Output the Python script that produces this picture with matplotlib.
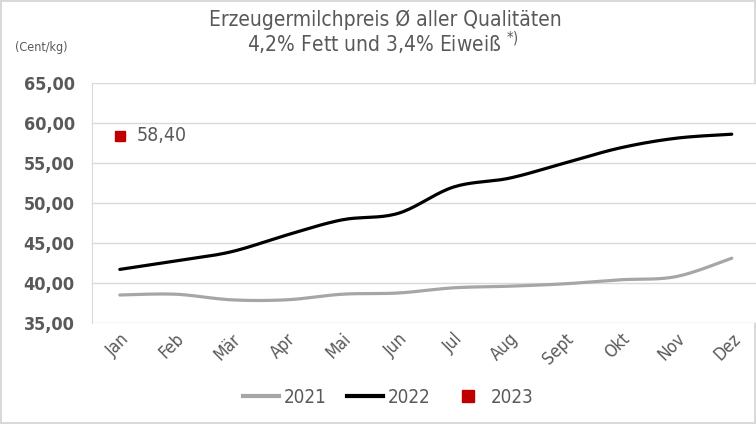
import numpy as np
import matplotlib.pyplot as plt
from matplotlib.lines import Line2D
from matplotlib.ticker import FuncFormatter

months = ["Jan", "Feb", "Mär", "Apr", "Mai", "Jun", "Jul", "Aug", "Sept", "Okt", "Nov", "Dez"]
price_2021 = [38.5, 38.6, 37.9, 37.9, 38.6, 38.75, 39.4, 39.6, 39.9, 40.4, 40.8, 43.1]
price_2022 = [41.7, 42.75, 43.9, 46.0, 47.9, 48.7, 52.0, 53.1, 55.0, 56.9, 58.1, 58.6]
price_2023 = [58.40]

TXT = "#595959"
plt.rcParams['font.family'] = ['DejaVu Sans']
plt.rcParams['font.stretch'] = 'condensed'


def smooth(y, n=20):
    """Excel-like smoothed line (Catmull-Rom Bezier through the points)."""
    y = np.asarray(y, float)
    x = np.arange(len(y), dtype=float)
    xs, ys = [], []
    t = np.linspace(0, 1, n)
    for i in range(len(y) - 1):
        p0 = np.array([x[max(i - 1, 0)], y[max(i - 1, 0)]])
        p1 = np.array([x[i], y[i]])
        p2 = np.array([x[i + 1], y[i + 1]])
        p3 = np.array([x[min(i + 2, len(y) - 1)], y[min(i + 2, len(y) - 1)]])
        c1 = p1 + (p2 - p0) / 6
        c2 = p2 - (p3 - p1) / 6
        b = (np.outer((1 - t) ** 3, p1) + np.outer(3 * (1 - t) ** 2 * t, c1)
             + np.outer(3 * (1 - t) * t ** 2, c2) + np.outer(t ** 3, p2))
        xs.extend(b[:, 0])
        ys.extend(b[:, 1])
    return np.array(xs), np.array(ys)


fig = plt.figure(figsize=(7.56, 4.24), dpi=100)
fig.patch.set_edgecolor("#d9d9d9")
fig.patch.set_linewidth(1.5)
ax = fig.add_axes([0.1217, 0.2382, 0.883, 0.566])

for yv in range(35, 70, 5):
    ax.axhline(yv, color="#d9d9d9", lw=1, zorder=0)

x1, y1 = smooth(price_2021)
x2, y2 = smooth(price_2022)
ax.plot(x1, y1, color="#a6a6a6", lw=2.3, solid_capstyle="round", zorder=2)
ax.plot(x2, y2, color="black", lw=2.3, solid_capstyle="round", zorder=3)
ax.plot(range(len(price_2023)), price_2023, "s", color="#c00000", ms=7.5, zorder=4)
ax.text(0.3, price_2023[0], f"{price_2023[0]:.2f}".replace(".", ","),
        color=TXT, fontsize=14, va="center", ha="left")

ax.set_xlim(-0.5, 11.5)
ax.set_ylim(35, 65)
ax.set_yticks(range(35, 70, 5))
ax.yaxis.set_major_formatter(FuncFormatter(lambda v, p: f"{v:.2f}".replace(".", ",")))
ax.set_xticks(range(12))
ax.set_xticklabels(months, rotation=45, ha="right", rotation_mode="anchor")
ax.tick_params(axis="y", length=0, pad=12.5, labelsize=13, labelcolor=TXT)
ax.tick_params(axis="x", length=0, pad=5, labelsize=12.5, labelcolor=TXT)
for lab in ax.get_yticklabels():
    lab.set_fontweight("bold")
for s in ["top", "right", "bottom"]:
    ax.spines[s].set_visible(False)
ax.spines["left"].set_color("#d9d9d9")

fig.text(0.51, 0.953, "Erzeugermilchpreis Ø aller Qualitäten", ha="center", va="center",
         fontsize=15, color=TXT)
fig.text(0.507, 0.898, "4,2% Fett und 3,4% Eiweiß $^{*)}$", ha="center", va="center",
         fontsize=15, color=TXT)
fig.text(0.02, 0.888, "(Cent/kg)", ha="left", va="center", fontsize=9, color=TXT)

handles = [Line2D([], [], color="#a6a6a6", lw=3),
           Line2D([], [], color="black", lw=3),
           Line2D([], [], marker="s", ls="none", color="#c00000", ms=8)]
fig.legend(handles, ["2021", "2022", "2023"], loc="center", bbox_to_anchor=(0.514, 0.063),
           ncol=3, frameon=False, fontsize=13.5, handlelength=1.9, handletextpad=0.25,
           columnspacing=1.1, labelcolor=TXT)

fig.savefig("out.png", dpi=100)
